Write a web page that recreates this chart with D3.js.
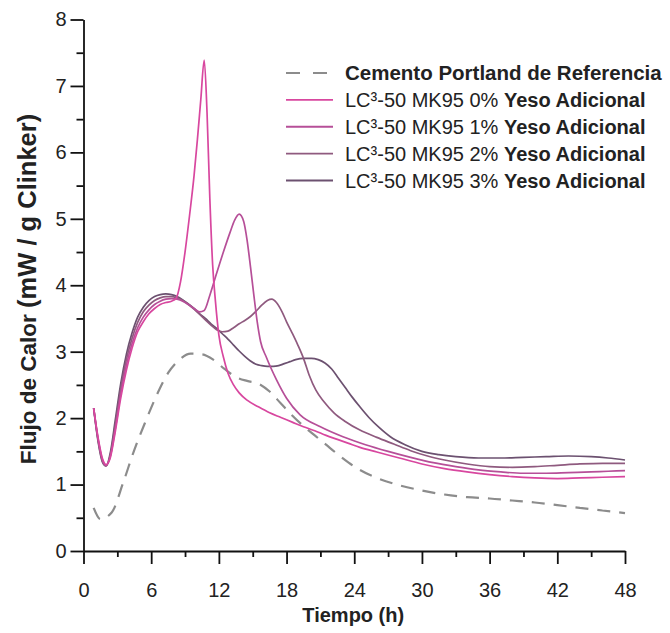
<!DOCTYPE html>
<html>
<head>
<meta charset="utf-8">
<script src="https://cdn.jsdelivr.net/npm/d3@7/dist/d3.min.js"></script>
<style>
  html, body { margin: 0; padding: 0; background: #fff; }
  svg { display: block; font-family: "Liberation Sans", Arial, sans-serif; }
</style>
</head>
<body>
<svg id="chart" width="670" height="633"></svg>
<script>
// Heat flow curves (mW / g clinker) against time (h)
const tRef = [0.9, 1.5, 2.5, 3.5, 4.5, 5.5, 6.5, 7.5, 8.5, 9.5, 10.5, 11.5, 12.5, 13.5, 14.5, 15.5, 16.5, 17.5, 18.5, 19.5, 20.5, 21.5, 22.5, 23.5, 24.5, 26, 28, 30, 32, 34, 36, 38, 40, 42, 44, 46, 48];
const vRef = [0.65, 0.48, 0.58, 1.02, 1.52, 1.95, 2.35, 2.68, 2.88, 2.97, 2.96, 2.88, 2.74, 2.62, 2.56, 2.52, 2.40, 2.22, 2.04, 1.88, 1.74, 1.60, 1.46, 1.33, 1.22, 1.10, 0.99, 0.91, 0.85, 0.81, 0.79, 0.76, 0.73, 0.69, 0.65, 0.61, 0.57];

const t0 = [0.9, 1.3, 1.7, 2.0, 2.4, 2.8, 3.3, 3.8, 4.3, 4.8, 5.3, 5.8, 6.3, 6.8, 7.3, 7.8, 8.2, 8.6, 9.0, 9.4, 9.8, 10.1, 10.4, 10.7, 10.95, 11.2, 11.45, 11.7, 12.0, 12.4, 12.8, 13.3, 13.8, 14.5, 15.5, 16.5, 17.5, 18.5, 19.5, 20.5, 21.5, 22.5, 23.5, 24.5, 26, 28, 30, 32, 34, 36, 38, 40, 42, 44, 46, 48];
const v0 = [2.15, 1.70, 1.38, 1.30, 1.42, 1.78, 2.30, 2.72, 3.05, 3.30, 3.45, 3.57, 3.65, 3.71, 3.74, 3.76, 3.80, 4.05, 4.50, 5.05, 5.65, 6.20, 6.80, 7.39, 6.60, 5.30, 4.30, 3.75, 3.25, 2.92, 2.68, 2.50, 2.38, 2.27, 2.17, 2.08, 2.01, 1.94, 1.87, 1.81, 1.74, 1.68, 1.62, 1.56, 1.49, 1.40, 1.31, 1.24, 1.19, 1.15, 1.12, 1.10, 1.09, 1.10, 1.11, 1.12];

const t1 = [0.9, 1.3, 1.7, 2.0, 2.4, 2.8, 3.3, 3.8, 4.3, 4.8, 5.3, 5.8, 6.3, 6.8, 7.3, 7.8, 8.3, 8.8, 9.3, 9.8, 10.3, 10.7, 11.2, 11.8, 12.4, 13.0, 13.4, 13.8, 14.2, 14.5, 14.8, 15.1, 15.4, 15.7, 16.2, 17.1, 18.0, 19.2, 21, 23, 25, 27, 29, 31, 33, 35, 37, 39, 41, 43, 45, 46.5, 48];
const v1 = [2.15, 1.68, 1.36, 1.29, 1.44, 1.82, 2.36, 2.80, 3.12, 3.36, 3.52, 3.63, 3.71, 3.76, 3.79, 3.80, 3.79, 3.76, 3.71, 3.65, 3.60, 3.62, 3.85, 4.18, 4.50, 4.80, 4.98, 5.07, 4.96, 4.68, 4.28, 3.85, 3.45, 3.15, 2.92, 2.58, 2.30, 2.05, 1.87, 1.72, 1.60, 1.50, 1.41, 1.33, 1.27, 1.22, 1.19, 1.17, 1.17, 1.18, 1.19, 1.20, 1.21];

const t2 = [0.9, 1.3, 1.7, 2.0, 2.4, 2.8, 3.3, 3.8, 4.3, 4.8, 5.3, 5.8, 6.3, 6.8, 7.3, 7.8, 8.3, 8.8, 9.3, 9.8, 10.3, 10.8, 11.3, 11.8, 12.3, 12.8, 13.3, 13.8, 14.3, 14.8, 15.3, 15.8, 16.3, 16.7, 17.1, 17.6, 18.0, 18.5, 19.0, 19.5, 20.0, 20.6, 21.3, 22.2, 23.2, 24.5, 26, 27.5, 29, 30.5, 32, 34, 36, 38, 40, 42, 44, 46, 48];
const v2 = [2.15, 1.66, 1.34, 1.28, 1.46, 1.88, 2.44, 2.88, 3.20, 3.44, 3.60, 3.70, 3.77, 3.81, 3.83, 3.83, 3.81, 3.77, 3.71, 3.64, 3.56, 3.48, 3.40, 3.33, 3.30, 3.31, 3.36, 3.42, 3.47, 3.53, 3.61, 3.70, 3.77, 3.79, 3.74, 3.60, 3.45, 3.28, 3.10, 2.90, 2.65, 2.42, 2.25, 2.08, 1.95, 1.82, 1.71, 1.61, 1.51, 1.43, 1.37, 1.31, 1.27, 1.26, 1.27, 1.29, 1.31, 1.32, 1.32];

const t3 = [0.9, 1.3, 1.7, 2.0, 2.4, 2.8, 3.3, 3.8, 4.3, 4.8, 5.3, 5.8, 6.3, 6.8, 7.3, 7.8, 8.3, 8.8, 9.3, 9.8, 10.3, 10.8, 11.3, 11.8, 12.3, 12.8, 13.3, 13.8, 14.3, 14.8, 15.3, 15.8, 16.3, 16.8, 17.3, 17.8, 18.3, 18.8, 19.5, 20.2, 20.8, 21.4, 22.0, 22.6, 23.2, 23.8, 24.5, 25.3, 26.2, 27.2, 28.5, 30, 31.5, 33, 35, 37, 39, 41, 43, 45, 46.5, 48];
const v3 = [2.15, 1.64, 1.33, 1.28, 1.50, 1.95, 2.52, 2.96, 3.28, 3.52, 3.67, 3.77, 3.83, 3.86, 3.87, 3.86, 3.83, 3.78, 3.72, 3.65, 3.57, 3.50, 3.42, 3.35, 3.27, 3.19, 3.10, 3.01, 2.93, 2.86, 2.81, 2.79, 2.78, 2.78, 2.79, 2.82, 2.85, 2.88, 2.90, 2.90, 2.88, 2.83, 2.74, 2.60, 2.46, 2.32, 2.17, 2.01, 1.86, 1.72, 1.60, 1.50, 1.45, 1.42, 1.40, 1.40, 1.41, 1.42, 1.43, 1.42, 1.40, 1.37];

const seriesNames = [
  ["Cemento Portland de Referencia", ""],
  ["LC\u00B3-50 MK95 0% ", "Yeso Adicional"],
  ["LC\u00B3-50 MK95 1% ", "Yeso Adicional"],
  ["LC\u00B3-50 MK95 2% ", "Yeso Adicional"],
  ["LC\u00B3-50 MK95 3% ", "Yeso Adicional"]
];
const seriesColors = ["#8c8c8c", "#d8479f", "#b64f98", "#8f5a7f", "#6c5170"];

const xMajor = [0, 6, 12, 18, 24, 30, 36, 42, 48];
const xMinor = [3, 9, 15, 21, 27, 33, 39, 45];
const yMajor = [0, 1, 2, 3, 4, 5, 6, 7, 8];
const yMinor = [0.5, 1.5, 2.5, 3.5, 4.5, 5.5, 6.5, 7.5];

const xTitle = "Tiempo (h)";
const yTitleA = "Flujo de Calor ";
const yTitleB = "(mW / g Clinker)";

const svg = d3.select("#chart");
const plotLeft = 83.5, plotRight = 625, plotTop = 19.5, plotBottom = 551;

const x = d3.scaleLinear().domain([0, 48]).range([plotLeft, plotRight]);
const y = d3.scaleLinear().domain([0, 8]).range([plotBottom, plotTop]);

const line = d3.line()
  .x(d => x(d[0]))
  .y(d => y(d[1]))
  .curve(d3.curveMonotoneX);

const zip = (t, v) => t.map((h, i) => [h, v[i]]);

// curves: reference underneath, then 3% .. 0%
const plot = svg.append("g");
plot.append("path")
  .attr("d", line(zip(tRef, vRef)))
  .attr("fill", "none")
  .attr("stroke", seriesColors[0])
  .attr("stroke-width", 2.2)
  .attr("stroke-dasharray", "13,9");

const lc3 = [[t3, v3, 4], [t2, v2, 3], [t1, v1, 2], [t0, v0, 1]];
lc3.forEach(([t, v, k]) => {
  plot.append("path")
    .attr("d", line(zip(t, v)))
    .attr("fill", "none")
    .attr("stroke", seriesColors[k])
    .attr("stroke-width", 1.7);
});

// axes
const fontSize = 20;
function styleAxis(g) {
  g.selectAll("path, line").attr("stroke", "#111").attr("stroke-width", 1.8);
  g.selectAll("text").attr("fill", "#222").style("font-size", fontSize + "px")
    .style("font-family", "'Liberation Sans', Arial, sans-serif");
}

const gx = svg.append("g").attr("transform", `translate(0,${plotBottom})`)
  .call(d3.axisBottom(x).tickValues(xMajor).tickSize(13).tickSizeOuter(0).tickPadding(19).tickFormat(d3.format("d")));
styleAxis(gx);
const gxm = svg.append("g").attr("transform", `translate(0,${plotBottom})`)
  .call(d3.axisBottom(x).tickValues(xMinor).tickSize(6).tickSizeOuter(0).tickFormat(""));
styleAxis(gxm);
gxm.select(".domain").remove();

const gy = svg.append("g").attr("transform", `translate(${plotLeft},0)`)
  .call(d3.axisLeft(y).tickValues(yMajor).tickSize(13).tickSizeOuter(0).tickPadding(4).tickFormat(d3.format("d")));
styleAxis(gy);
const gym = svg.append("g").attr("transform", `translate(${plotLeft},0)`)
  .call(d3.axisLeft(y).tickValues(yMinor).tickSize(7).tickSizeOuter(0).tickFormat(""));
styleAxis(gym);
gym.select(".domain").remove();

// axis titles
svg.append("text")
  .attr("x", (plotLeft + plotRight) / 2 - 1)
  .attr("y", 622)
  .attr("text-anchor", "middle")
  .attr("font-size", 20)
  .attr("font-weight", "bold")
  .attr("fill", "#222")
  .text(xTitle);

const yt = svg.append("text")
  .attr("transform", "translate(36,289) rotate(-90)")
  .attr("text-anchor", "middle")
  .attr("font-weight", "bold")
  .attr("fill", "#222");
yt.append("tspan").attr("font-size", 22.5).text(yTitleA);
yt.append("tspan").attr("font-size", 25.5).text(yTitleB);

// legend
const legend = svg.append("g");
const rowY = d3.scaleLinear().domain([0, 4]).range([73, 180.5]);
seriesNames.forEach((name, i) => {
  const g = legend.append("g").attr("transform", `translate(0,${rowY(i)})`);
  const ln = g.append("line")
    .attr("x1", 286).attr("x2", 333)
    .attr("stroke", seriesColors[i])
    .attr("stroke-width", i === 0 ? 2.2 : 1.8);
  if (i === 0) ln.attr("stroke-dasharray", "14,13");
  const tx = g.append("text")
    .attr("x", 345)
    .attr("dy", "0.35em")
    .attr("font-size", i === 0 ? 20.5 : fontSize)
    .attr("fill", "#222");
  if (i === 0) {
    tx.append("tspan").attr("font-weight", "bold").text(name[0]);
  } else {
    tx.append("tspan").text(name[0]);
    tx.append("tspan").attr("font-weight", "bold").text(name[1]);
  }
});
</script>
</body>
</html>
